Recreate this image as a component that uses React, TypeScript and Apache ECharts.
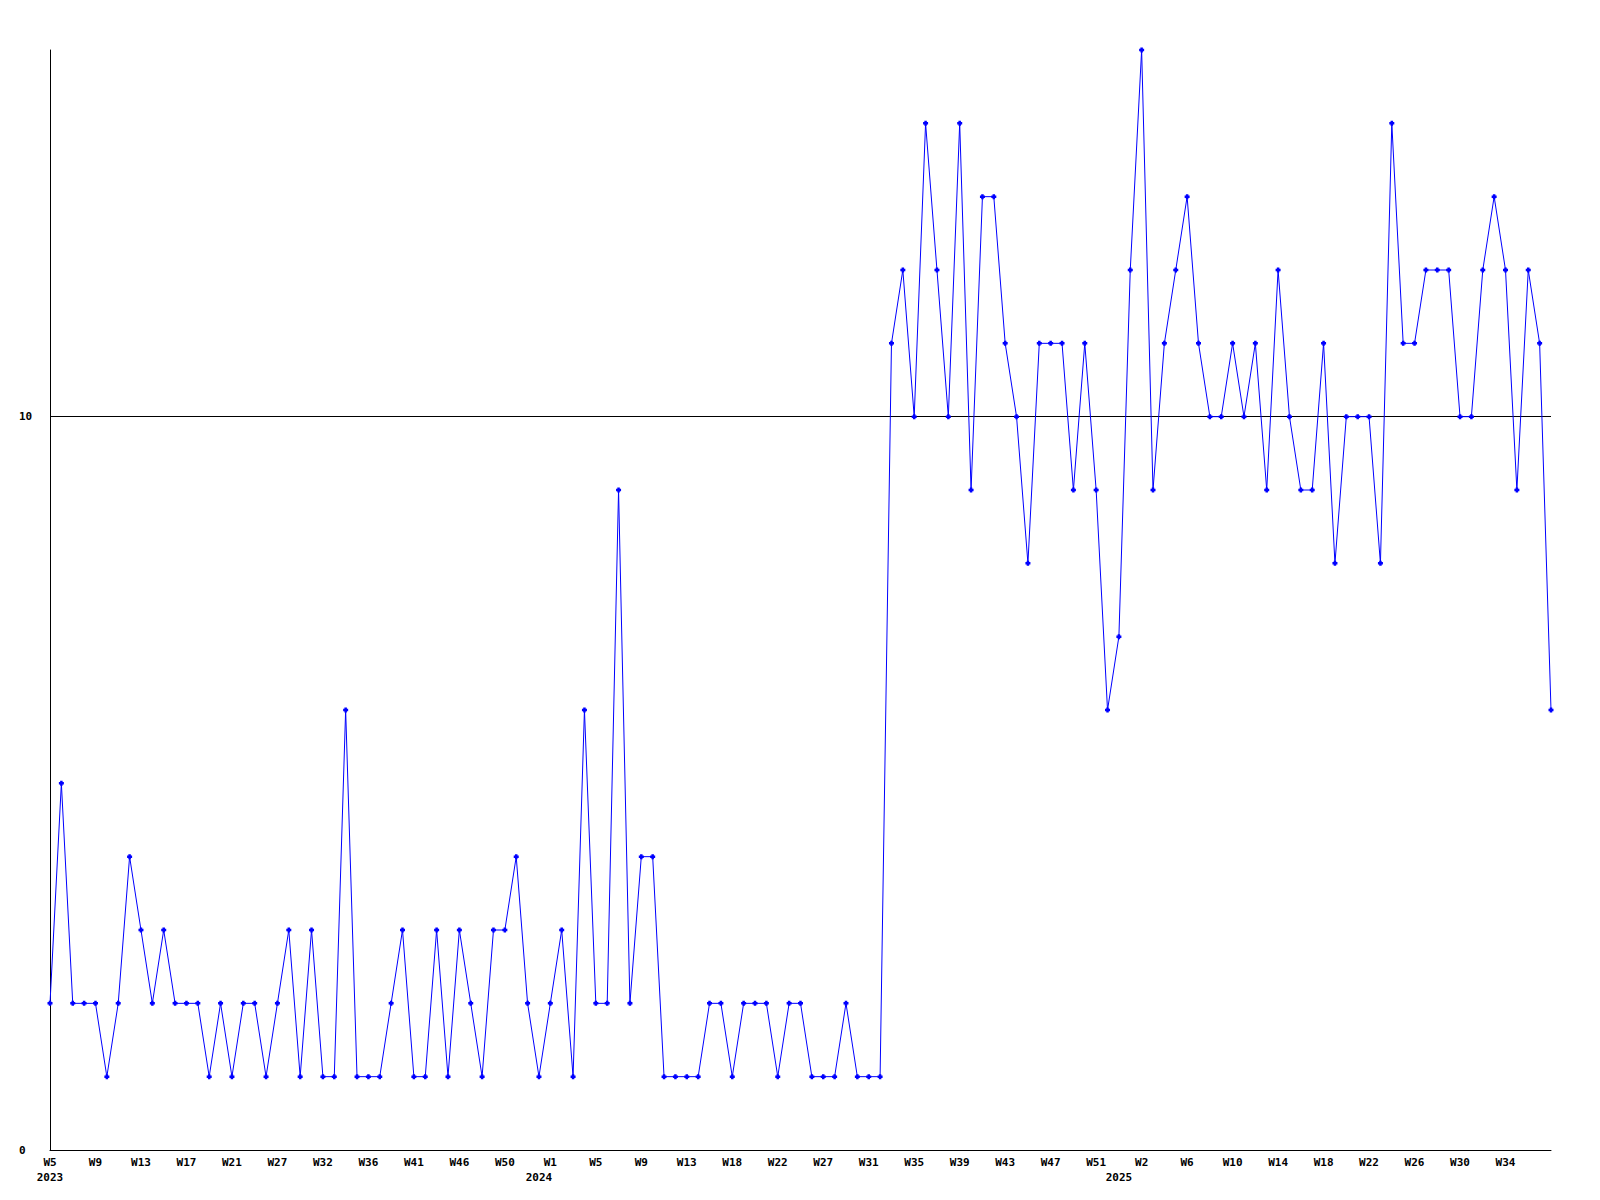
import React, { useEffect, useRef } from "react";
import * as echarts from "echarts";

// Week categories (one point per reported week)
const weeks2023 = [
  "W5", "W6", "W7", "W8", "W9", "W10", "W11", "W12", "W13", "W14", "W15", "W16", "W17",
  "W18", "W19", "W20", "W21", "W23", "W24", "W26", "W27", "W28", "W30", "W31", "W32",
  "W33", "W34", "W35", "W36", "W37", "W39", "W40", "W41", "W42", "W44", "W45", "W46",
  "W47", "W48", "W49", "W50", "W51", "W52", "W53",
];
const weeks2024 = [
  "W1", "W2", "W3", "W4", "W5", "W6", "W7", "W8", "W9", "W10", "W11", "W12", "W13", "W14",
  "W16", "W17", "W18", "W19", "W20", "W21", "W22", "W23",
  "W25", "W26", "W27", "W28", "W29", "W30", "W31", "W32", "W33", "W34", "W35", "W36",
  "W37", "W38", "W39", "W40", "W41", "W42", "W43", "W44", "W45", "W46", "W47", "W48",
  "W49", "W50", "W51", "W52", "W53",
];
const weeks2025 = [
  "W1", "W2", "W3", "W4", "W5", "W6", "W7", "W8", "W9", "W10", "W11", "W12", "W13", "W14",
  "W15", "W16", "W17", "W18", "W19", "W20", "W21", "W22", "W23", "W24", "W25", "W26",
  "W27", "W28", "W29", "W30", "W31", "W32", "W33", "W34", "W35", "W36", "W37", "W38",
];
const categories = [...weeks2023, ...weeks2024, ...weeks2025];

// Year labels, placed at the turn of each year
const yearLabels = ["2023", "2024", "2025"];
const yearLabelIndex = [0, weeks2023.length - 1, weeks2023.length + weeks2024.length - 1];

// Weekly values
const values2023 = [
  2, 5, 2, 2, 2, 1, 2, 4, 3, 2, 3, 2, 2, 2, 1, 2, 1, 2, 2, 1, 2, 3, 1, 3, 1, 1, 6, 1, 1, 1,
  2, 3, 1, 1, 3, 1, 3, 2, 1, 3, 3, 4, 2, 1,
];
const values2024 = [
  2, 3, 1, 6, 2, 2, 9, 2, 4, 4, 1, 1, 1, 1, 2, 2, 1, 2, 2, 2, 1, 2, 2, 1, 1, 1, 2, 1, 1, 1,
  11, 12, 10, 14, 12, 10, 14, 9, 13, 13, 11, 10, 8, 11, 11, 11, 9, 11, 9, 6, 7,
];
const values2025 = [
  12, 15, 9, 11, 12, 13, 11, 10, 10, 11, 10, 11, 9, 12, 10, 9, 9, 11, 8, 10, 10, 10, 8, 14,
  11, 11, 12, 12, 12, 10, 10, 12, 13, 12, 9, 12, 11, 6,
];
const values = [...values2023, ...values2024, ...values2025];

const yMin = 0;
const yMax = 15;
const yInterval = 10;
const referenceLine = 10;

const FONT = "DejaVu Sans Mono";

export default function App() {
  const ref = useRef<HTMLDivElement>(null);

  useEffect(() => {
    if (!ref.current) return;
    const chart = echarts.init(ref.current, undefined, { renderer: "svg" });
    chart.setOption({
      animation: false,
      backgroundColor: "#ffffff",
      grid: { left: 50, right: 49, top: 50, bottom: 50 },
      xAxis: [
        {
          type: "category",
          data: categories,
          boundaryGap: false,
          position: "bottom",
          axisLine: { show: true, lineStyle: { color: "#000", width: 1 } },
          axisTick: { show: false },
          splitLine: { show: false },
          axisLabel: {
            interval: (i: number) => i % 4 === 0 && i < categories.length - 1,
            margin: 7,
            color: "#000",
            fontFamily: FONT,
            fontWeight: "bold",
            fontSize: 11,
          },
        },
        {
          type: "category",
          data: categories,
          boundaryGap: false,
          position: "bottom",
          axisLine: { show: false },
          axisTick: { show: false },
          splitLine: { show: false },
          axisLabel: {
            interval: (i: number) => yearLabelIndex.indexOf(i) >= 0,
            formatter: (_v: string, i: number) => {
              const k = yearLabelIndex.indexOf(i);
              return k >= 0 ? yearLabels[k] : "";
            },
            margin: 22,
            color: "#000",
            fontFamily: FONT,
            fontWeight: "bold",
            fontSize: 11,
          },
        },
      ],
      yAxis: {
        type: "value",
        min: yMin,
        max: yMax,
        interval: yInterval,
        axisLine: { show: true, lineStyle: { color: "#000", width: 1 } },
        axisTick: { show: false },
        splitLine: { show: false },
        axisLabel: {
          showMaxLabel: false,
          align: "left",
          margin: 31,
          color: "#000",
          fontFamily: FONT,
          fontWeight: "bold",
          fontSize: 11,
        },
      },
      series: [
        {
          type: "line",
          xAxisIndex: 0,
          data: values,
          symbol: "path://M1,0H3V1H4V3H3V4H1V3H0V1H1Z",
          symbolSize: 5,
          showAllSymbol: true,
          itemStyle: { color: "#0000ff" },
          lineStyle: { color: "#0000ff", width: 1 },
          markLine: {
            silent: true,
            symbol: ["none", "none"],
            label: { show: false },
            lineStyle: { color: "#000", width: 1, type: "solid" },
            data: [{ yAxis: referenceLine }],
            z: 1,
          },
        },
      ],
    });
    return () => chart.dispose();
  }, []);

  return (
    <div
      ref={ref}
      style={{ position: "fixed", left: 0, top: 0, width: 1600, height: 1200, background: "#fff" }}
    />
  );
}
